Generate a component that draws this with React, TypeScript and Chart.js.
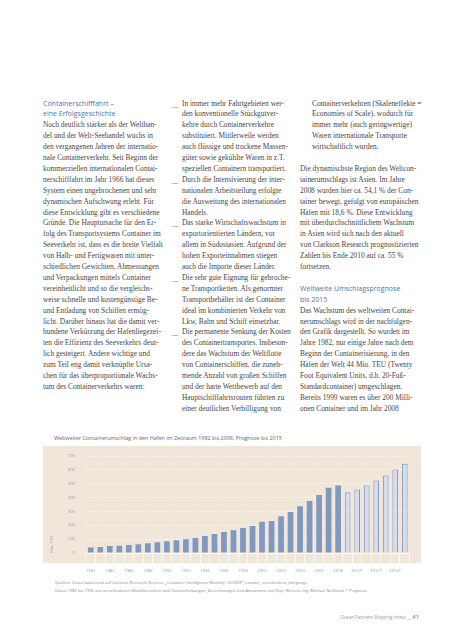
import React, { useEffect, useRef } from "react";
import { Chart, registerables } from "chart.js";

Chart.register(...registerables);

// ---------- chart data ----------
const historyYears = [
  "1982", "1983", "1984", "1985", "1986", "1987", "1988", "1989", "1990",
  "1991", "1992", "1993", "1994", "1995", "1996", "1997", "1998", "1999",
  "2000", "2001", "2002", "2003", "2004", "2005", "2006", "2007", "2008",
];
const historyValues = [
  40, 44, 51, 53, 58, 63, 70, 77, 85,
  92, 100, 108, 122, 137, 151, 165, 180, 194,
  225, 231, 266, 296, 338, 376, 418, 470, 488,
];
const forecastYears = ["2009*", "2010*", "2011*", "2012*", "2013*", "2014*", "2015*"];
const forecastValues = [438, 458, 488, 524, 560, 603, 644];
const yMax = 700;
const yStep = 100;

const chartTitle =
  "Weltweiter Containerumschlag in den Häfen im Zeitraum 1982 bis 2008, Prognose bis 2015";
const yAxisTitle = "Mio. TEU";
const sourceLines = [
  "Quellen: Daten basierend auf Clarkson Research Services \u201eContainer Intelligence Monthly 10/2009\u201c, London, verschiedene Jahrgänge.",
  "Daten 1982 bis 1995 aus verschiedenen Marktberichten und Datenerhebungen, Berechnungen und Annahmen von Dipl.-Wirtsch.-Ing. Michael Nießland. * Prognose",
];

// ---------- body text ----------
const col1Heading = ["Containerschifffahrt \u2013", "eine Erfolgsgeschichte"];
const col1Lines = [
  "Noch deutlich stärker als der Welthan-",
  "del und der Welt-Seehandel wuchs in",
  "den vergangenen Jahren der internatio-",
  "nale Containerverkehr. Seit Beginn der",
  "kommerziellen internationalen Contai-",
  "nerschifffahrt im Jahr 1966 hat dieses",
  "System einen ungebrochenen und sehr",
  "dynamischen Aufschwung erlebt. Für",
  "diese Entwicklung gibt es verschiedene",
  "Gründe. Die Hauptursache für den Er-",
  "folg des Transportsystems Container im",
  "Seeverkehr ist, dass es die breite Vielfalt",
  "von Halb- und Fertigwaren mit unter-",
  "schiedlichen Gewichten, Abmessungen",
  "und Verpackungen mittels Container",
  "vereinheitlicht und so die vergleichs-",
  "weise schnelle und kostengünstige Be-",
  "und Entladung von Schiffen ermög-",
  "licht. Darüber hinaus hat die damit ver-",
  "bundene Verkürzung der Hafenliegezei-",
  "ten die Effizienz des Seeverkehrs deut-",
  "lich gesteigert. Andere wichtige und",
  "zum Teil eng damit verknüpfte Ursa-",
  "chen für das überproportionale Wachs-",
  "tum des Containerverkehrs waren:",
];
const col2Lines = [
  "In immer mehr Fahrtgebieten wer-",
  "den konventionelle Stückgutver-",
  "kehre durch Containerverkehre",
  "substituiert. Mittlerweile werden",
  "auch flüssige und trockene Massen-",
  "güter sowie gekühlte Waren in z.T.",
  "speziellen Containern transportiert.",
  "Durch die Intensivierung der inter-",
  "nationalen Arbeitsteilung erfolgte",
  "die Ausweitung des internationalen",
  "Handels.",
  "Das starke Wirtschaftswachstum in",
  "exportorientierten Ländern, vor",
  "allem in Südostasien. Aufgrund der",
  "hohen Exporteinnahmen stiegen",
  "auch die Importe dieser Länder.",
  "Die sehr gute Eignung für gebroche-",
  "ne Transportketten. Als genormter",
  "Transportbehälter ist der Container",
  "ideal im kombinierten Verkehr von",
  "Lkw, Bahn und Schiff einsetzbar.",
  "Die permanente Senkung der Kosten",
  "des Containertransportes. Insbeson-",
  "dere das Wachstum der Weltflotte",
  "von Containerschiffen, die zuneh-",
  "mende Anzahl von großen Schiffen",
  "und der harte Wettbewerb auf den",
  "Hauptschifffahrtsrouten führten zu",
  "einer deutlichen Verbilligung von",
];
const col2Bullets = [0, 7, 11, 16, 21];
const col3Lines = [
  "Containerverkehren (Skaleneffekte =",
  "Economies of Scale), wodurch für",
  "immer mehr (auch geringwertige)",
  "Waren internationale Transporte",
  "wirtschaftlich wurden.",
  "",
  "Die dynamischste Region des Weltcon-",
  "tainerumschlags ist Asien. Im Jahre",
  "2008 wurden hier ca. 54,1 % der Con-",
  "tainer bewegt, gefolgt von europäischen",
  "Häfen mit 18,6 %. Diese Entwicklung",
  "mit überdurchschnittlichem Wachstum",
  "in Asien wird sich nach den aktuell",
  "von Clarkson Research prognostizierten",
  "Zahlen bis Ende 2010 auf ca. 55 %",
  "fortsetzen.",
  "",
  "Weltweite Umschlagsprognose",
  "bis 2015",
  "Das Wachstum des weltweiten Contai-",
  "nerumschlags wird in der nachfolgen-",
  "den Grafik dargestellt. So wurden im",
  "Jahre 1982, nur einige Jahre nach dem",
  "Beginn der Containerisierung, in den",
  "Häfen der Welt 44 Mio. TEU (Twenty",
  "Foot Equivalent Units, d.h. 20-Fuß-",
  "Standardcontainer) umgeschlagen.",
  "Bereits 1999 waren es über 200 Milli-",
  "onen Container und im Jahr 2008",
];
const col3Indented = [0, 1, 2, 3, 4];
const col3Headings = [17, 18];
const footerText = "Ocean Partners Shipping Invest __";
const pageNumber = "41";

// ---------- styles ----------
const LH = 10.9;
const TOP = 104 - LH / 2;
const serif = "'Liberation Serif', 'DejaVu Serif', serif";
const sans = "'Open Sans', 'DejaVu Sans', sans-serif";
const bodyColor = "#474747";
const headColor = "#4a78ab";

const lineStyle = (i: number, left: number): React.CSSProperties => ({
  position: "absolute",
  left,
  top: TOP + i * LH,
  height: LH,
  lineHeight: `${LH}px`,
  whiteSpace: "nowrap",
  fontFamily: serif,
  fontSize: 7.4,
  color: bodyColor,
});

const headStyle = (i: number, left: number): React.CSSProperties => ({
  ...lineStyle(i, left),
  fontFamily: sans,
  fontSize: 7,
  color: headColor,
});

function BarChart() {
  const ref = useRef<HTMLCanvasElement | null>(null);
  useEffect(() => {
    if (!ref.current) return;
    const labels = [...historyYears, ...forecastYears];
    const values = [...historyValues, ...forecastValues];
    const isF = labels.map((_, i) => i >= historyYears.length);
    const tickFont = { family: "'Open Sans', sans-serif", size: 4.2 };
    const chart = new Chart(ref.current, {
      type: "bar",
      data: {
        labels,
        datasets: [
          {
            data: values,
            backgroundColor: isF.map((f) => (f ? "#d4ddec" : "#8198c1")),
            borderColor: isF.map((f) => (f ? "#7e93bd" : "#8198c1")),
            borderWidth: isF.map((f) => (f ? 1 : 0)),
            borderSkipped: "bottom",
            barPercentage: 0.6,
            categoryPercentage: 1,
          },
        ],
      },
      options: {
        animation: false,
        responsive: false,
        maintainAspectRatio: false,
        layout: { padding: { left: 0, right: 20.5, top: 16, bottom: 0 } },
        plugins: { legend: { display: false }, tooltip: { enabled: false } },
        scales: {
          x: {
            grid: {
              display: true,
              drawOnChartArea: false,
              drawTicks: true,
              tickLength: 10,
              color: "#ffffff",
              lineWidth: 1,
              offset: true,
            },
            border: { display: true, color: "#ffffff", width: 1 },
            ticks: {
              autoSkip: false,
              maxRotation: 0,
              minRotation: 0,
              padding: 5,
              color: "#a0a0a0",
              font: tickFont,
              callback: function (this: any, v: any, i: number) {
                return i % 2 === 0 ? this.getLabelForValue(v) : "";
              },
            },
            afterFit: (s: any) => {
              s.height = 27;
            },
          },
          y: {
            min: 0,
            max: yMax,
            ticks: { stepSize: yStep, padding: 11, color: "#a0a0a0", font: tickFont },
            grid: { color: "#ffffff", lineWidth: 1, drawTicks: false },
            border: { display: false, dash: [1, 2] },
            title: {
              display: true,
              text: yAxisTitle,
              align: "start",
              color: "#a0a0a0",
              font: tickFont,
              padding: { top: 29.5, bottom: 0 },
            },
            afterFit: (s: any) => {
              s.width = 66;
            },
          },
        },
      },
    } as any);
    return () => chart.destroy();
  }, []);
  return (
    <canvas
      ref={ref}
      width={410}
      height={140}
      style={{ position: "absolute", left: 20, top: 440, width: 410, height: 140 }}
    />
  );
}

export default function App() {
  return (
    <div
      style={{
        position: "absolute",
        left: 0,
        top: 0,
        width: 453,
        height: 640,
        background: "#ffffff",
        overflow: "hidden",
      }}
    >
      {col1Heading.map((t, i) => (
        <div key={"h1" + i} style={headStyle(i, 43)}>{t}</div>
      ))}
      {col1Lines.map((t, i) => (
        <div key={"c1" + i} style={lineStyle(i + 2, 43)}>{t}</div>
      ))}
      {col2Bullets.map((i) => (
        <div key={"b" + i} style={{ ...lineStyle(i, 172), fontFamily: sans, color: "#777" }}>__</div>
      ))}
      {col2Lines.map((t, i) => (
        <div key={"c2" + i} style={lineStyle(i, 182)}>{t}</div>
      ))}
      {col3Lines.map((t, i) =>
        col3Headings.includes(i) ? (
          <div key={"c3" + i} style={headStyle(i, 300)}>{t}</div>
        ) : (
          <div key={"c3" + i} style={lineStyle(i, col3Indented.includes(i) ? 312 : 300)}>{t}</div>
        )
      )}

      <div
        style={{
          position: "absolute",
          left: 54,
          top: 434,
          fontFamily: sans,
          fontSize: 5.4,
          lineHeight: "8px",
          color: "#666",
          whiteSpace: "nowrap",
        }}
      >
        {chartTitle}
      </div>

      <div
        style={{
          position: "absolute",
          left: 43,
          top: 446,
          width: 378,
          height: 117,
          background: "#f0e6d9",
        }}
      />
      <BarChart />

      {sourceLines.map((t, i) => (
        <div
          key={"s" + i}
          style={{
            position: "absolute",
            left: 55,
            top: 580 + i * 7.5,
            fontFamily: sans,
            fontSize: 4.1,
            lineHeight: "6px",
            color: "#8a8a8a",
            whiteSpace: "nowrap",
          }}
        >
          {t}
        </div>
      ))}

      <div
        style={{
          position: "absolute",
          right: 453 - 419,
          top: 607,
          fontFamily: sans,
          color: "#999",
          whiteSpace: "nowrap",
          lineHeight: "12px",
        }}
      >
        <span style={{ fontSize: 4.5 }}>{footerText} </span>
        <span style={{ fontSize: 5.8, fontWeight: 600, color: "#8090b0" }}>{pageNumber}</span>
      </div>
    </div>
  );
}
